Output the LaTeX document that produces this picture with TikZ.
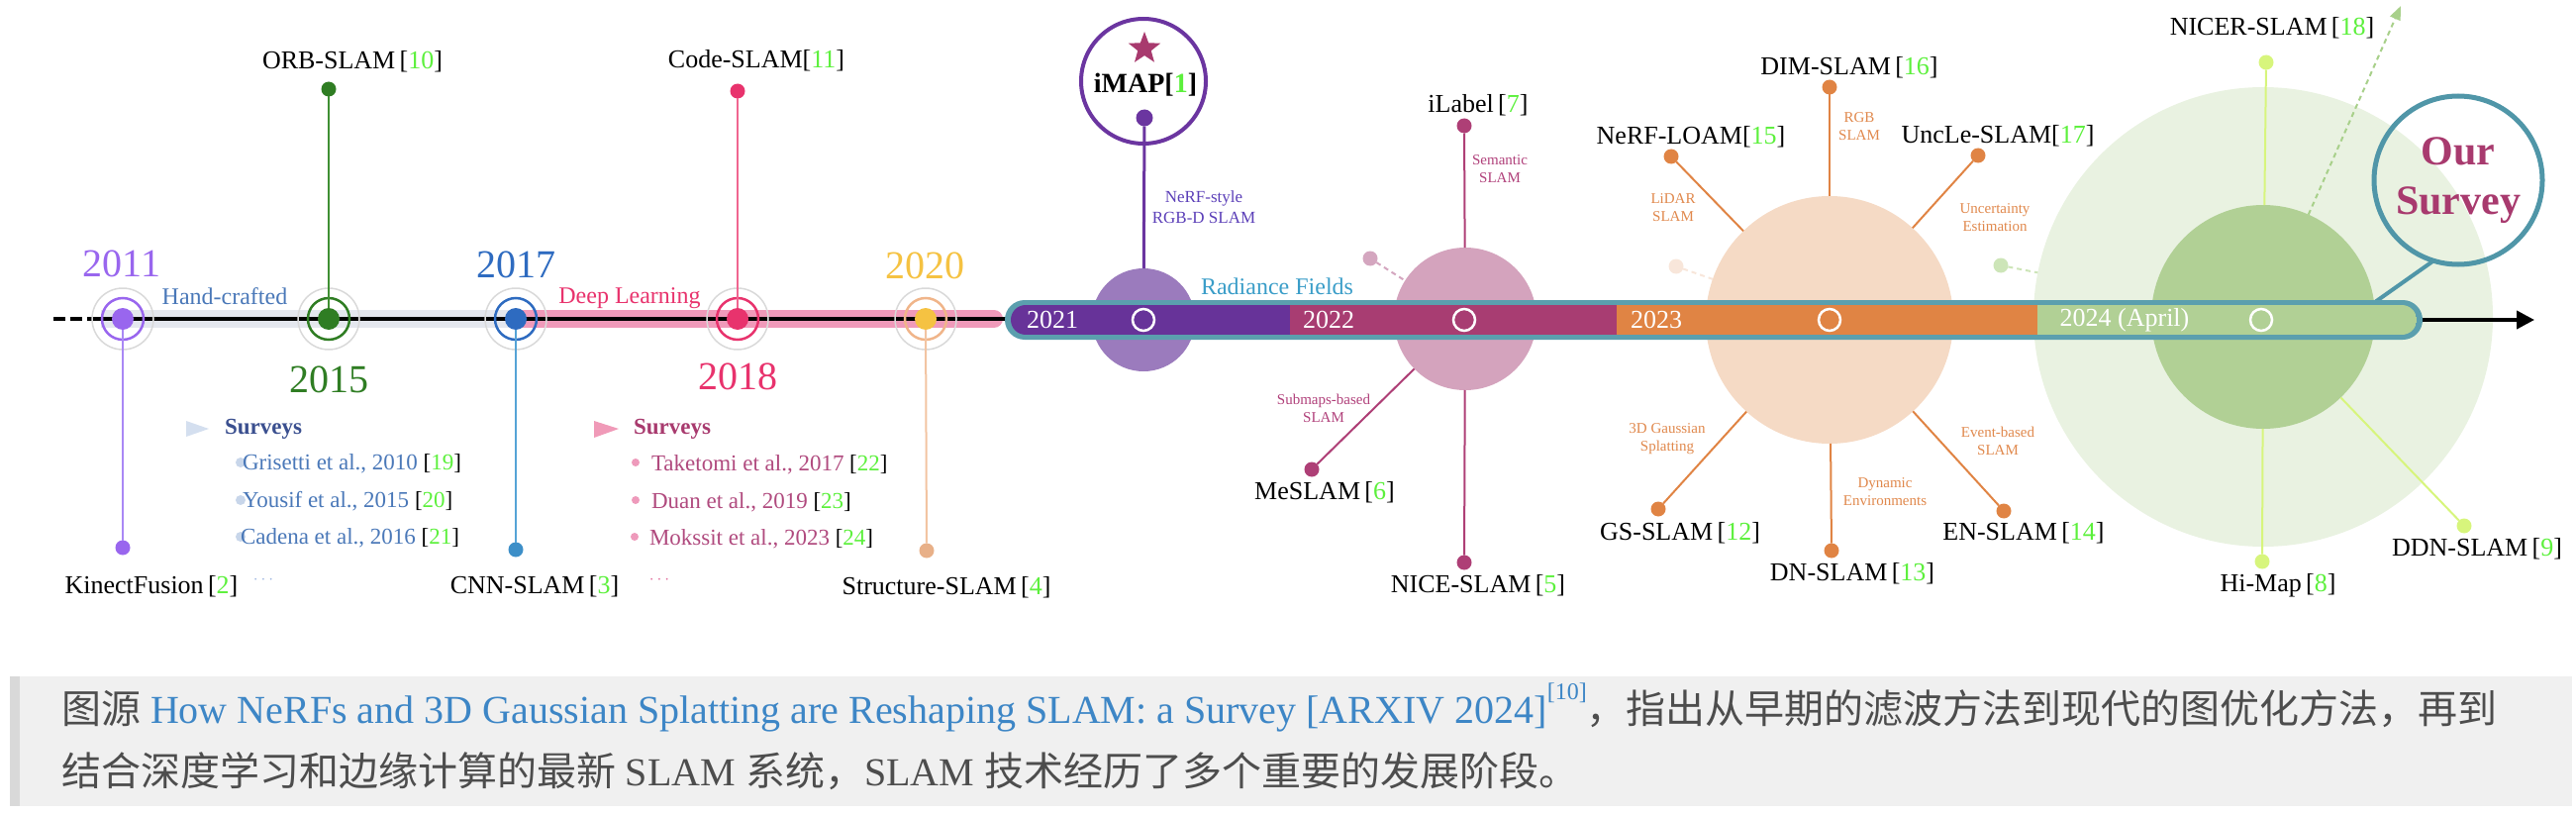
\documentclass[tikz,border=0pt]{standalone}
\usepackage{fontspec}
\setmainfont{Liberation Serif}
\newfontfamily\cjk{Noto Sans CJK SC}
\usetikzlibrary{shapes.geometric,arrows.meta}
\definecolor{c11}{HTML}{9966EE}\definecolor{c11l}{HTML}{A988F5}
\definecolor{c15}{HTML}{2F7D23}\definecolor{c15l}{HTML}{3F8F33}
\definecolor{c17}{HTML}{2E6BC0}\definecolor{c17l}{HTML}{55A3D6}\definecolor{c17d}{HTML}{3D8FC8}
\definecolor{c18}{HTML}{E8336D}\definecolor{c18l}{HTML}{F06590}
\definecolor{c20}{HTML}{F5C242}\definecolor{c20r}{HTML}{F0B58A}\definecolor{c20l}{HTML}{F2C4A2}\definecolor{c20d}{HTML}{E8B088}
\definecolor{handgray}{HTML}{E4E7EE}\definecolor{pinkband}{HTML}{F09ABA}
\definecolor{barteal}{HTML}{5B9FAE}
\definecolor{b21}{HTML}{673399}\definecolor{b22}{HTML}{A83D72}\definecolor{b23}{HTML}{E08444}\definecolor{b24}{HTML}{B1D095}
\definecolor{cc21}{HTML}{9B7BBD}\definecolor{cc22}{HTML}{D4A3BD}\definecolor{cc23}{HTML}{F5DAC5}
\definecolor{cc24o}{HTML}{E9F2E1}\definecolor{cc24i}{HTML}{B1D095}
\definecolor{imapcol}{HTML}{6B35A0}\definecolor{starc}{HTML}{A83A6E}
\definecolor{l22}{HTML}{AE3F76}\definecolor{txt22}{HTML}{B0407A}
\definecolor{l23}{HTML}{E08444}\definecolor{txt23}{HTML}{E0884C}
\definecolor{l24}{HTML}{D7F57C}
\definecolor{sat22}{HTML}{D4A6BF}\definecolor{sat23}{HTML}{F8E6DA}\definecolor{sat24}{HTML}{CDE5B8}
\definecolor{dashg}{HTML}{A8D08A}
\definecolor{nerfst}{HTML}{5B3FB8}\definecolor{radf}{HTML}{3A9DC8}
\definecolor{hand}{HTML}{4A78B8}\definecolor{deep}{HTML}{E8336D}
\definecolor{survL}{HTML}{3A4F8F}\definecolor{itemL}{HTML}{4A78B8}\definecolor{bulL}{HTML}{C8D6EA}\definecolor{triL}{HTML}{D4DFEF}
\definecolor{survR}{HTML}{A83A6E}\definecolor{itemR}{HTML}{B04A7E}\definecolor{bulR}{HTML}{EE9ABB}\definecolor{triR}{HTML}{F09AB8}
\definecolor{refg}{HTML}{5CF03C}
\definecolor{capbg}{HTML}{F0F0F0}\definecolor{capbar}{HTML}{D9D9D9}\definecolor{captxt}{HTML}{4D4D4D}\definecolor{linkb}{HTML}{3D86C6}
\definecolor{ringgray}{HTML}{D9D9D9}\definecolor{ourc}{HTML}{5096A8}
\definecolor{moreL}{HTML}{9DB5DF}\definecolor{moreR}{HTML}{E06B9A}
\newcommand{\refn}[1]{{\color{black}[}{\color{refg}#1}{\color{black}]}}
\begin{document}
\begin{tikzpicture}[x=1pt,y=-1pt,
  every node/.style={inner sep=0pt,outer sep=0pt},
  lbl/.style={font=\fontsize{26}{30}\selectfont},
  yr/.style={font=\fontsize{40}{44}\selectfont},
  smalllbl/.style={font=\fontsize{15}{18}\selectfont,align=center},
  barlbl/.style={font=\fontsize{26}{30}\selectfont,text=white},
  enddot/.style={circle,minimum size=15pt,fill=#1},
  yrdot/.style={circle,minimum size=22pt,fill=#1},
  bigc/.style={circle,minimum size=#1},
  conn/.style={line width=2pt},
  satl/.style={line width=2pt,dash pattern=on 5pt off 4pt},
  itemtxt/.style={font=\fontsize{23}{27}\selectfont,anchor=west},
  survhead/.style={font=\fontsize{23}{27}\selectfont\bfseries,anchor=west},
  ringO/.style={circle,draw=white,line width=2.5pt,minimum size=22pt},
  outring/.style={ringgray,line width=1.5pt},
  inring/.style={line width=2.5pt},
  capt/.style={font=\fontsize{40}{48}\selectfont,text=captxt,anchor=base west}]
\useasboundingbox (0,0) rectangle (2602,824);

% caption
\fill[capbg] (10,683) rectangle (2598,814);
\fill[capbar] (10,683) rectangle (20,814);
\node[capt] (cap1) at (62,730) {{\cjk 图源} {\color{linkb}How NeRFs and 3D Gaussian Splatting are Reshaping SLAM: a Survey [ARXIV 2024]\raisebox{0.6em}{\fontsize{24}{24}\selectfont[10]}}{\cjk ，指出从早期的滤波方法到现代的图优化方法，再到}};
\node[capt] (cap2) at (62,793) {{\cjk 结合深度学习和边缘计算的最新} SLAM {\cjk 系统，}SLAM {\cjk 技术经历了多个重要的发展阶段。}};

% 2024 circles
\node[bigc=464pt,fill=cc24o] (c24o) at (2286,320) {};
\node[enddot=sat24] (s24) at (2021,268) {};
\draw[satl,sat24] (s24) -- (c24o);
\node[bigc=226pt,fill=cc24i] (c24i) at (2286,320) {};
\node[enddot=l24] (nicerd) at (2289,63) {};
\node[enddot=l24] (himapd) at (2285,567) {};
\node[enddot=l24] (ddnd) at (2489,531) {};
\draw[conn,l24] (nicerd) -- (c24i);
\draw[conn,l24] (himapd) -- (c24i);
\draw[conn,l24] (ddnd) -- (c24i);
\coordinate (dtip) at (2425,6);
\draw[satl,dashg,-{Triangle[length=14pt,width=11pt]}] (c24i) -- (dtip);
\node[lbl] (nicerl) at (2295,28) {NICER-SLAM\,\refn{18}};
\node[lbl] (himapl) at (2301,591) {Hi-Map\,\refn{8}};
\node[lbl] (ddnl) at (2502,554) {DDN-SLAM\,\refn{9}};

% Our survey
\node[circle,draw=ourc,line width=5pt,minimum size=170pt,align=center,text=survR,font=\fontsize{42}{50}\selectfont\bfseries] (our) at (2483,182) {Our\\Survey};
\coordinate (ptr) at (2399,305);
\draw[line width=4pt,ourc] (our.-107) -- (ptr);

% 2023 circle
\node[bigc=250pt,fill=cc23] (c23) at (1848,323) {};
\node[enddot=sat23] (s23) at (1693,269) {};
\draw[satl,sat23] (s23) -- (c23);
\node[enddot=l23] (dimd) at (1848,88) {};
\node[enddot=l23] (loamd) at (1688,158) {};
\node[enddot=l23] (uncd) at (1998,157) {};
\node[enddot=l23] (gsd) at (1675,514) {};
\node[enddot=l23] (dnd) at (1850,556) {};
\node[enddot=l23] (end) at (2024,516) {};
\foreach \d in {dimd,loamd,uncd,gsd,dnd,end} \draw[conn,l23] (\d) -- (c23);
\node[lbl] (diml) at (1868,68) {DIM-SLAM\,\refn{16}};
\node[lbl] (loaml) at (1708,138) {NeRF-LOAM\refn{15}};
\node[lbl] (uncl) at (2018,137) {UncLe-SLAM\refn{17}};
\node[lbl] (gsl) at (1697,538) {GS-SLAM\,\refn{12}};
\node[lbl] (dnl) at (1871,579) {DN-SLAM\,\refn{13}};
\node[lbl] (enl) at (2044,538) {EN-SLAM\,\refn{14}};
\node[smalllbl,text=txt23] (rgbt) at (1878,128) {RGB\\SLAM};
\node[smalllbl,text=txt23] (lidt) at (1690,210) {LiDAR\\SLAM};
\node[smalllbl,text=txt23] (unct) at (2015,220) {Uncertainty\\Estimation};
\node[smalllbl,text=txt23] (gst) at (1684,443) {3D Gaussian\\Splatting};
\node[smalllbl,text=txt23] (dnt) at (1904,497) {Dynamic\\Environments};
\node[smalllbl,text=txt23] (ent) at (2018,445) {Event-based\\SLAM};

% 2022 circle
\node[bigc=144pt,fill=cc22] (c22) at (1480,322) {};
\node[enddot=sat22] (s22) at (1384,261) {};
\draw[satl,sat22] (s22) -- (c22);
\node[enddot=l22] (ilad) at (1479,127) {};
\node[enddot=l22] (mesd) at (1325,474) {};
\node[enddot=l22] (niced) at (1479,568) {};
\foreach \d in {ilad,mesd,niced} \draw[conn,l22] (\d) -- (c22);
\node[lbl] (ilal) at (1493,106) {iLabel\,\refn{7}};
\node[lbl] (mesl) at (1338,497) {MeSLAM\,\refn{6}};
\node[lbl] (nicel) at (1493,591) {NICE-SLAM\,\refn{5}};
\node[smalllbl,text=txt22] (semt) at (1515,171) {Semantic\\SLAM};
\node[smalllbl,text=txt22] (subt) at (1337,412) {Submaps-based\\SLAM};

% 2021 / iMAP
\node[bigc=104pt,fill=cc21] (c21) at (1155,323) {};
\node[circle,draw=imapcol,line width=4pt,fill=white,minimum size=126pt] (imapring) at (1155,82) {};
\node[star,star points=5,star point ratio=2.4,fill=starc,minimum size=34pt] (star) at (1156,49) {};
\node[font=\fontsize{28}{32}\selectfont\bfseries] (imapl) at (1157,86) {iMAP\refn{1}};
\node[enddot=imapcol,minimum size=17pt] (imapd) at (1156,119) {};
\draw[line width=3pt,imapcol] (imapd) -- (c21);
\node[font=\fontsize{17}{21}\selectfont,align=center,text=nerfst] (nerft) at (1216,209) {NeRF-style\\RGB-D SLAM};
\node[font=\fontsize{24}{28}\selectfont,text=radf] (radft) at (1290,289) {Radiance Fields};

% timeline base
\coordinate (tA) at (54,322);
\coordinate (tB) at (94,322);
\coordinate (barL) at (1016,322);
\coordinate (bandA) at (102,322);
\coordinate (bandB) at (521,322);
\coordinate (bandC) at (1004,322);
\draw[line width=18pt,handgray] (bandA) -- (bandB);
\draw[line width=18pt,pinkband,line cap=round] (bandB) -- (bandC);
\draw[line width=4pt,dash pattern=on 12pt off 5pt] (tA) -- (tB);
\draw[line width=4pt] (tB) -- (barL);

% year markers
\draw[outring] (124,322) circle[radius=31pt];
\draw[inring,c11] (124,322) circle[radius=21pt];
\node[yrdot=c11] (y11) at (124,322) {};
\draw[outring] (332,322) circle[radius=31pt];
\draw[inring,c15] (332,322) circle[radius=21pt];
\node[yrdot=c15] (y15) at (332,322) {};
\draw[outring] (521,322) circle[radius=31pt];
\draw[inring,c17] (521,322) circle[radius=21pt];
\node[yrdot=c17] (y17) at (521,322) {};
\draw[outring] (745,322) circle[radius=31pt];
\draw[inring,c18] (745,322) circle[radius=21pt];
\node[yrdot=c18] (y18) at (745,322) {};
\draw[outring] (935,322) circle[radius=31pt];
\draw[inring,c20r] (935,322) circle[radius=21pt];
\node[yrdot=c20] (y20) at (935,322) {};

\node[enddot=c11] (kfd) at (124,553) {};
\node[enddot=c15] (orbd) at (332,90) {};
\node[enddot=c17d] (cnnd) at (521,555) {};
\node[enddot=c18] (coded) at (745,92) {};
\node[enddot=c20d] (strd) at (936,556) {};
\draw[conn,c11l] (y11) -- (kfd);
\draw[conn,c15l] (y15) -- (orbd);
\draw[conn,c17l] (y17) -- (cnnd);
\draw[conn,c18l] (y18) -- (coded);
\draw[conn,c20l] (y20) -- (strd);

\node[yr,text=c11] (t11) at (123,266) {2011};
\node[yr,text=c15] (t15) at (332,383) {2015};
\node[yr,text=c17] (t17) at (521,267) {2017};
\node[yr,text=c18] (t18) at (745,380) {2018};
\node[yr,text=c20] (t20) at (934,268) {2020};
\node[font=\fontsize{24}{28}\selectfont,text=hand] (handt) at (227,299) {Hand-crafted};
\node[font=\fontsize{24}{28}\selectfont,text=deep] (deept) at (636,301) {Deep Learning};

\node[lbl] (kfl) at (153,592) {KinectFusion\,\refn{2}};
\node[lbl] (orbl) at (356,62) {ORB-SLAM\,\refn{10}};
\node[lbl] (cnnl) at (540,592) {CNN-SLAM\,\refn{3}};
\node[lbl] (codel) at (764,61) {Code-SLAM\refn{11}};
\node[lbl] (strl) at (956,593) {Structure-SLAM\,\refn{4}};

% surveys
\fill[triL] (188,425) -- (211,433) -- (188,441) -- cycle;
\node[survhead,text=survL] (svL) at (227,433) {Surveys};
\fill[bulL] (243,467) circle[radius=5pt];
\fill[bulL] (243,505) circle[radius=5pt];
\fill[bulL] (243,542) circle[radius=5pt];
\node[itemtxt,text=itemL] (sv19) at (245,468) {Grisetti et al., 2010 \refn{19}};
\node[itemtxt,text=itemL] (sv20) at (245,506) {Yousif et al., 2015 \refn{20}};
\node[itemtxt,text=itemL] (sv21) at (243,543) {Cadena et al., 2016 \refn{21}};
\node[font=\fontsize{16}{16}\selectfont,text=moreL] (moreLt) at (266,586) {$\cdots$};

\fill[triR] (600,425) -- (625,433) -- (600,442) -- cycle;
\node[survhead,text=survR] (svR) at (640,433) {Surveys};
\fill[bulR] (642,467) circle[radius=4pt];
\fill[bulR] (642,505) circle[radius=4pt];
\fill[bulR] (641,542) circle[radius=4pt];
\node[itemtxt,text=itemR] (sv22) at (658,469) {Taketomi et al., 2017 \refn{22}};
\node[itemtxt,text=itemR] (sv23) at (658,507) {Duan et al., 2019 \refn{23}};
\node[itemtxt,text=itemR] (sv24) at (656,544) {Mokssit et al., 2023 \refn{24}};
\node[font=\fontsize{16}{16}\selectfont,text=moreR] (moreRt) at (666,586) {$\cdots$};

% radiance bar
\fill[barteal,rounded corners=20pt] (1015,303) rectangle (2447,343);
\begin{scope}
\clip[rounded corners=15pt] (1021,308) rectangle (2441,338);
\fill[b21] (1021,308) rectangle (1303,338);
\fill[b22] (1303,308) rectangle (1633,338);
\fill[b23] (1633,308) rectangle (2058,338);
\fill[b24] (2058,308) rectangle (2441,338);
\end{scope}
\coordinate (barR) at (2447,323);
\coordinate (atip) at (2560,323);
\draw[line width=4pt,-{Triangle[length=18pt,width=18pt]}] (barR) -- (atip);
\node[barlbl] (t21) at (1063,323) {2021};
\node[barlbl] (t22) at (1342,323) {2022};
\node[barlbl] (t23) at (1673,323) {2023};
\node[barlbl] (t24) at (2146,323) {2024 (April)};
\node[ringO] (o21) at (1155,323) {};
\node[ringO] (o22) at (1479,323) {};
\node[ringO] (o23) at (1848,323) {};
\node[ringO] (o24) at (2284,323) {};
\end{tikzpicture}
\end{document}
